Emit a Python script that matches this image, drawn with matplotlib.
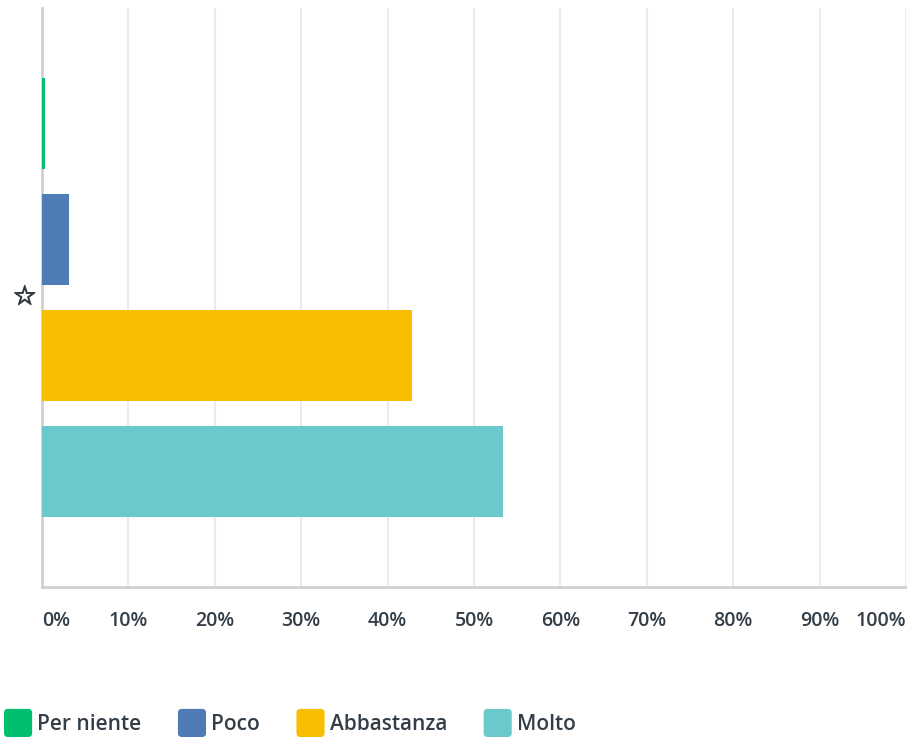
import numpy as np
import matplotlib.pyplot as plt
import matplotlib.patheffects as pe
from matplotlib.patches import FancyBboxPatch
from matplotlib.legend_handler import HandlerPatch

# Dati
categorie = ['Per niente', 'Poco', 'Abbastanza', 'Molto']
valori = [0.3, 3.1, 42.8, 53.4]          # percentuali
colori = ['#00bf6f', '#507cb6', '#f9be00', '#6bc8cd']
ticks = np.arange(0, 101, 10)
tick_labels = ['%d%%' % v for v in ticks]

plt.rcParams['font.family'] = ['Open Sans', 'DejaVu Sans']
testo = '#333e48'


class QuadratoArrotondato(HandlerPatch):
    # quadratino della legenda con gli angoli arrotondati
    def create_artists(self, legend, orig, xd, yd, w, h, fontsize, trans):
        p = FancyBboxPatch((-xd, -yd), w, h,
                           boxstyle='round,pad=0,rounding_size=%f' % (h * 0.14),
                           facecolor=orig.get_facecolor(), edgecolor='none',
                           transform=trans)
        return [p]


fig = plt.figure(figsize=(9.07, 7.4), dpi=100)
ax = fig.add_axes([42/907, (740-587)/740, 864/907, 579/740])

pos = np.arange(len(categorie))
barre = ax.barh(pos, valori, height=0.785, color=colori, zorder=3)

ax.set_xlim(0, 100)
ax.set_ylim(4, -1)
ax.set_yticks([])
ax.set_xticks(ticks)
ax.set_xticklabels(tick_labels, fontsize=14, fontweight='semibold', color=testo)
ax.tick_params(axis='x', length=0, pad=17)
lab = ax.get_xticklabels()
lab[0].set_ha('left')
lab[-1].set_ha('right')

ax.grid(axis='x', color='#ebebeb', linewidth=1.5, zorder=0)
for s in ['top', 'right']:
    ax.spines[s].set_visible(False)
for s in ['left', 'bottom']:
    ax.spines[s].set_color('#d0d0d0')
    ax.spines[s].set_linewidth(2)

# stella accanto al gruppo
ax.text(-2.0, 1.50, '\u2606', ha='center', va='center',
        fontsize=19, color=testo, family='DejaVu Sans', clip_on=False,
        path_effects=[pe.withStroke(linewidth=0.9, foreground=testo)])

leg = fig.legend(barre, categorie, loc='lower left', bbox_to_anchor=(4/907, 3/740),
                 ncol=4, frameon=False, fontsize=15, handlelength=1.35,
                 handleheight=1.70, handletextpad=0.25, columnspacing=1.75,
                 borderaxespad=0, borderpad=0,
                 handler_map={plt.Rectangle: QuadratoArrotondato()})
for t in leg.get_texts():
    t.set_color(testo)
    t.set_fontweight('semibold')

fig.savefig('out.png', dpi=100)
